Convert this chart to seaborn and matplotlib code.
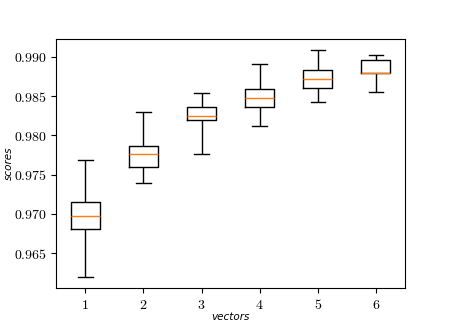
import matplotlib
matplotlib.use('Agg')
import matplotlib.pyplot as plt
from matplotlib.ticker import FuncFormatter
import seaborn as sns
import pandas as pd

# five-number summaries: min, q1, median, q3, max
vectors = ['1', '2', '3', '4', '5', '6']
scores = [
    [0.96194, 0.96809, 0.96974, 0.97153, 0.97691],
    [0.97398, 0.97593, 0.97759, 0.97865, 0.98298],
    [0.97764, 0.98196, 0.98244, 0.98367, 0.98541],
    [0.98120, 0.98362, 0.98482, 0.98588, 0.98907],
    [0.98426, 0.98601, 0.98724, 0.98830, 0.99085],
    [0.98548, 0.98791, 0.98791, 0.98957, 0.99026],
]

plt.rcParams['mathtext.fontset'] = 'cm'

df = pd.DataFrame({
    'vectors': [v for v, s in zip(vectors, scores) for _ in s],
    'scores': [x for s in scores for x in s],
})

fig, ax = plt.subplots(figsize=(4.5, 3.24), dpi=100)

sns.boxplot(data=df, x='vectors', y='scores', order=vectors, ax=ax,
            width=0.5, whis=(0, 100), fill=False, color='black',
            linecolor='black', linewidth=1,
            medianprops={'color': '#ff7f0e', 'linewidth': 1})

ax.set_xticks(range(len(vectors)))
ax.set_xticklabels([f'${v}$' for v in vectors], fontsize=10)
ax.yaxis.set_major_formatter(FuncFormatter(lambda v, p: f'${v:.3f}$'))
ax.tick_params(axis='y', labelsize=10)

ax.set_xlabel('vectors', fontsize=7.5, fontstyle='italic', labelpad=0)
ax.set_ylabel('scores', fontsize=7.5, fontstyle='italic', labelpad=0)

fig.savefig('out.png', dpi=100)
